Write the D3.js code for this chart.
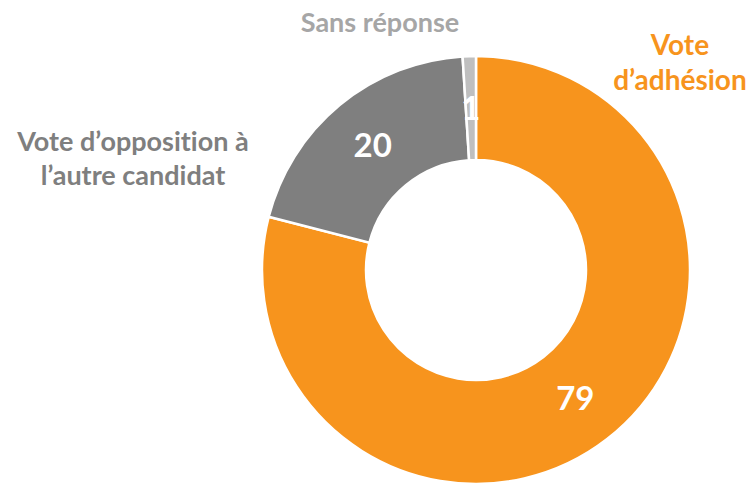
<!DOCTYPE html>
<html>
<head>
<meta charset="utf-8">
<script src="https://cdn.jsdelivr.net/npm/d3@7"></script>
<style>
  html, body { margin: 0; padding: 0; background: #fff; }
  svg { display: block; }
  text { font-family: "Lato", "Open Sans", sans-serif; font-weight: 700; font-variant-ligatures: none; font-feature-settings: "liga" 0, "clig" 0; }
</style>
</head>
<body>
<svg id="chart" width="756" height="484"></svg>
<script>
const categories = ["Vote d’adhésion", "Vote d’opposition à l’autre candidat", "Sans réponse"];
const values = [79, 20, 1];
const sliceColors = ["#F7941D", "#7F7F7F", "#BFBFBF"];
const labelLines = [["Vote", "d’adhésion"], ["Vote d’opposition à", "l’autre candidat"], ["Sans réponse"]];
const labelColors = ["#F7941D", "#7F7F7F", "#A6A6A6"];

const W = 756, H = 484;
const cx = 476, cy = 270;
const rOuter = 214, rInner = 110;

const svg = d3.select("#chart");
const g = svg.append("g").attr("transform", `translate(${cx},${cy})`);

const data = categories.map((c, i) => ({ name: c, value: values[i], i }));
const pie = d3.pie().sort(null).value(d => d.value).startAngle(0).endAngle(2 * Math.PI);
const arcs = pie(data);
const arc = d3.arc().innerRadius(rInner).outerRadius(rOuter);
const labelArc = d3.arc().innerRadius((rInner + rOuter) / 2).outerRadius((rInner + rOuter) / 2);

g.selectAll("path.slice").data(arcs).join("path")
  .attr("class", "slice")
  .attr("d", arc)
  .attr("fill", d => sliceColors[d.data.i])
  .attr("stroke", "#fff")
  .attr("stroke-width", 2.5)
  .attr("stroke-linejoin", "miter");

g.selectAll("text.val").data(arcs).join("text")
  .attr("class", "val")
  .attr("transform", d => { const [x, y] = labelArc.centroid(d); return `translate(${x},${y})`; })
  .attr("text-anchor", "middle")
  .attr("dy", "0.36em")
  .attr("fill", "#fff")
  .style("font-size", "33px")
  .text(d => d.data.value);

// Category labels (outside)
const catPos = [
  { x: 680, y: 55, lh: 35, fs: 28 },
  { x: 133, y: 151, lh: 34, fs: 27 },
  { x: 380, y: 32, lh: 34, fs: 27 }
];
data.forEach((d, i) => {
  const t = svg.append("text")
    .attr("text-anchor", "middle")
    .attr("fill", labelColors[i])
    .style("font-size", catPos[i].fs + "px");
  labelLines[i].forEach((line, k) => {
    t.append("tspan").attr("x", catPos[i].x).attr("y", catPos[i].y + k * catPos[i].lh).text(line);
  });
});
</script>
</body>
</html>
